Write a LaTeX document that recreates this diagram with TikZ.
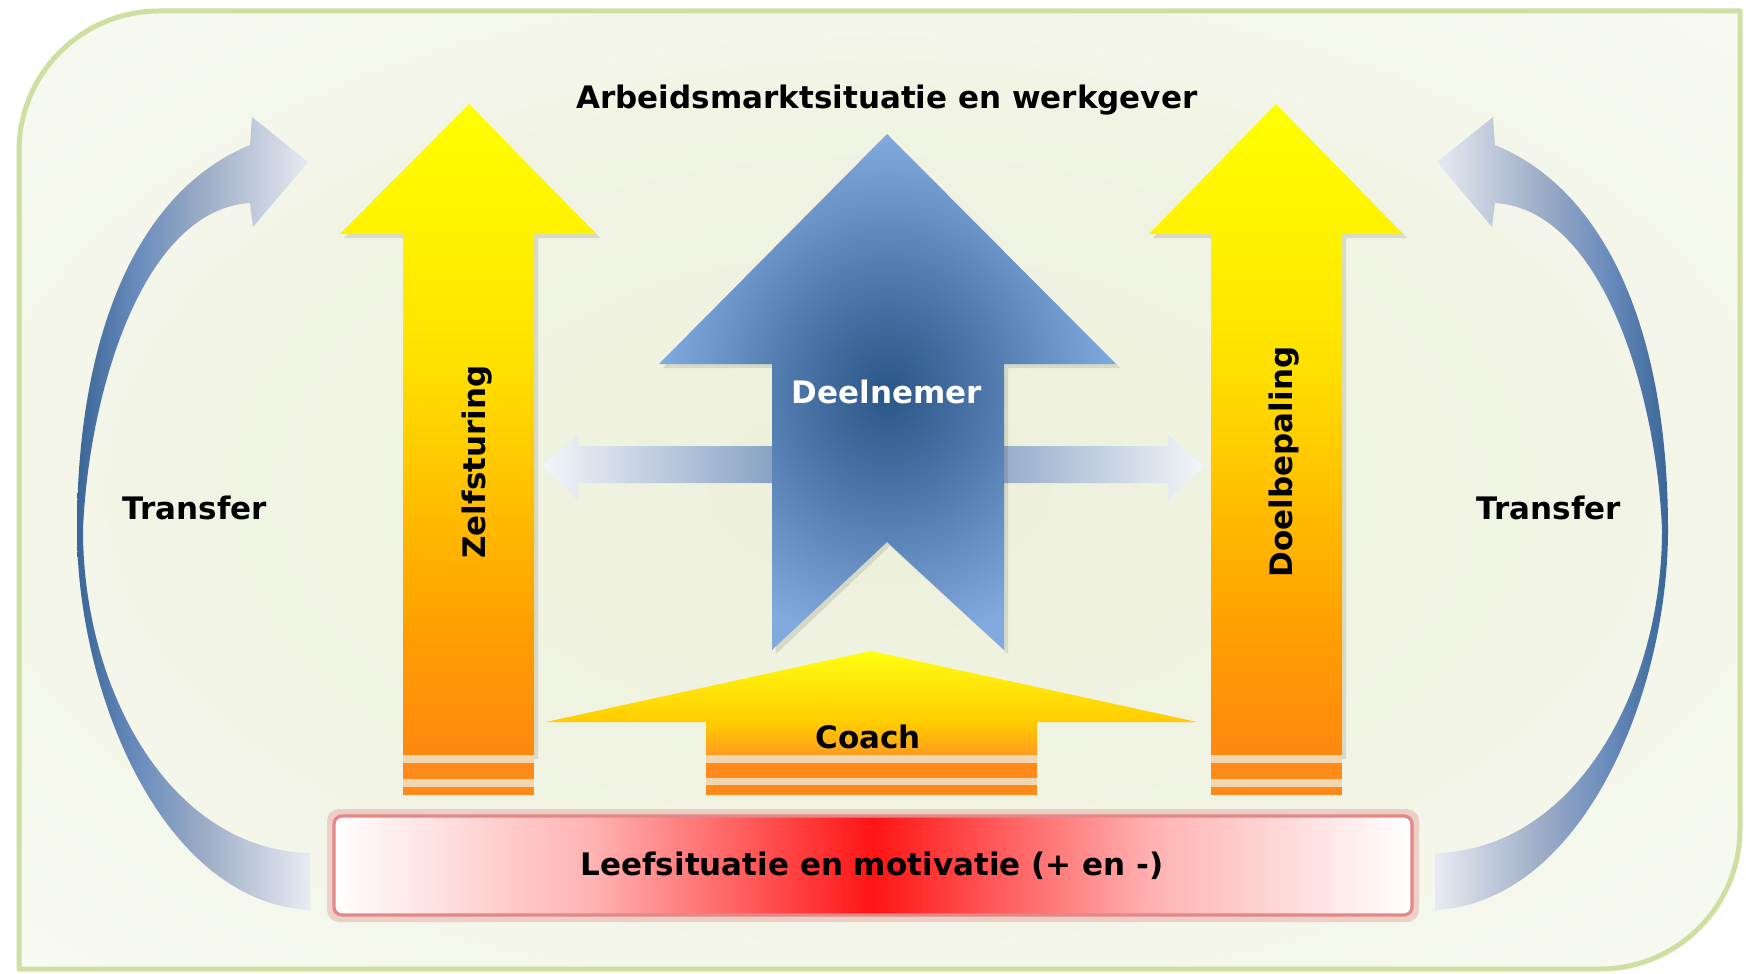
\documentclass[tikz,border=0pt]{standalone}
\usepackage{fontspec}
\setmainfont{DejaVu Sans}
\definecolor{bgin}{HTML}{ECF0DA}
\definecolor{bgout}{HTML}{F8FAF3}
\definecolor{framegreen}{HTML}{CFDFA2}
\definecolor{trdark}{HTML}{3A6698}
\definecolor{trmidA}{HTML}{6A8CBC}
\definecolor{trmidB}{HTML}{9CACC6}
\definecolor{trlight}{HTML}{E8EBF2}
\definecolor{dblmid}{HTML}{5B7EAC}
\definecolor{dblend}{HTML}{F4F6FA}
\definecolor{blueC}{HTML}{2A5686}
\definecolor{blueM}{HTML}{4F78AC}
\definecolor{blueE}{HTML}{82AADE}
\definecolor{colT}{HTML}{FFFF00}
\definecolor{colA}{HTML}{FFF200}
\definecolor{colB}{HTML}{FFE000}
\definecolor{colC}{HTML}{FFC000}
\definecolor{colD}{HTML}{FFA000}
\definecolor{colE}{HTML}{FF8810}
\definecolor{barorange}{HTML}{FF8A1A}
\definecolor{barlight}{HTML}{F2D6B2}
\definecolor{coT}{HTML}{FFFF10}
\definecolor{coM}{HTML}{FFCC00}
\definecolor{coB}{HTML}{FF9C20}
\definecolor{leefred}{HTML}{FF1414}
\definecolor{leefpink}{HTML}{FFB2B2}
\definecolor{leefborder}{HTML}{E28888}
\pgfdeclareverticalshading{colshade}{100bp}{color(0bp)=(colE); color(25bp)=(colE); color(35bp)=(colD); color(45bp)=(colC); color(55bp)=(colB); color(65bp)=(colA); color(75bp)=(colT); color(100bp)=(colT)}
\pgfdeclareverticalshading{coachshade}{100bp}{color(0bp)=(coB); color(25bp)=(coB); color(41bp)=(coM); color(75bp)=(coT); color(100bp)=(coT)}
\pgfdeclareradialshading{deelshade}{\pgfpoint{0bp}{0bp}}{color(0bp)=(blueC); color(11bp)=(blueM); color(25bp)=(blueE); color(50bp)=(blueE)}
\pgfdeclarehorizontalshading{leefshade}{100bp}{color(0bp)=(white); color(25bp)=(white); color(37bp)=(leefpink); color(50bp)=(leefred); color(63bp)=(leefpink); color(75bp)=(white); color(100bp)=(white)}
\pgfdeclarehorizontalshading{trLshade}{100bp}{color(0bp)=(trdark); color(25bp)=(trdark); color(38bp)=(trmidA); color(52bp)=(trmidB); color(75bp)=(trlight); color(100bp)=(trlight)}
\pgfdeclarehorizontalshading{trRshade}{100bp}{color(0bp)=(trlight); color(25bp)=(trlight); color(48bp)=(trmidB); color(62bp)=(trmidA); color(75bp)=(trdark); color(100bp)=(trdark)}
\pgfdeclareradialshading{bgshade}{\pgfpoint{0bp}{0bp}}{color(0bp)=(bgin); color(20bp)=(bgin!60!bgout); color(35bp)=(bgout); color(50bp)=(bgout)}
\tikzset{
  lbl/.style={font=\fontsize{15.5}{18}\selectfont\bfseries, text=black, inner sep=0pt},
  column/.style={shading=colshade},
  barlt/.style={fill=barlight},
  baror/.style={fill=barorange},
  shadowy/.style={fill=black, opacity=0.10}
}
\def\framepath{(159,11) -- (1740,11) -- (1740,829) arc[start angle=0,end angle=90,radius=140] -- (19,969) -- (19,151) arc[start angle=180,end angle=270,radius=140] -- cycle}
\def\transferpath{(308,910) .. controls (160,900) and (77,690) .. (77,530) .. controls (77,330) and (140,190) .. (250,145) -- (252,117) -- (308,162) -- (253,227) -- (250,203) .. controls (140,210) and (88,400) .. (83,530) .. controls (83,690) and (170,850) .. (310,853) -- (310,910) -- cycle}
\begin{document}
\begin{tikzpicture}[x=0.5pt,y=-0.5pt]
\useasboundingbox (0,0) rectangle (1746,974);
\fill[white] (0,0) rectangle (1746,974);
% background frame
\shade[shading=bgshade] \framepath;
\draw[framegreen, line width=2.5pt, line join=round] \framepath;
% transfer arrows
\shade[shading=trLshade] \transferpath;
\begin{scope}[shift={(1745,0)}, xscale=-1]
\shade[shading=trRshade] \transferpath;
\end{scope}
% double arrow behind Deelnemer
\shade[left color=dblend, right color=dblend, middle color=dblmid]
  (542,466) -- (578,435) -- (578,446) -- (1168,446) -- (1168,435) -- (1204,466)
  -- (1168,500) -- (1168,483) -- (578,483) -- (578,500) -- cycle;
% Deelnemer arrow
\fill[shadowy] (890,138) -- (1120,368) -- (1008,368) -- (1008,654) -- (890,546) -- (776,654) -- (776,368) -- (663,368) -- cycle;
\shade[shading=deelshade] (887,134) -- (1116,364) -- (1004,364) -- (1004,650) -- (887,542) -- (772,650) -- (772,364) -- (659,364) -- cycle;
% Zelfsturing column
\fill[shadowy] (472,108) -- (600,238) -- (538,238) -- (538,759) -- (407,759) -- (407,238) -- (344,238) -- cycle;
\shade[column] (469,104) -- (596,234) -- (534,234) -- (534,755) -- (403,755) -- (403,234) -- (340,234) -- cycle;
\fill[barlt] (403,755) rectangle (534,795);
\fill[baror] (403,763) rectangle (534,779);
\fill[baror] (403,787) rectangle (534,795);
% Doelbepaling column
\fill[shadowy] (1279,108) -- (1407,238) -- (1346,238) -- (1346,759) -- (1215,759) -- (1215,238) -- (1153,238) -- cycle;
\shade[column] (1276,104) -- (1403,234) -- (1342,234) -- (1342,755) -- (1211,755) -- (1211,234) -- (1149,234) -- cycle;
\fill[barlt] (1211,755) rectangle (1342,795);
\fill[baror] (1211,763) rectangle (1342,779);
\fill[baror] (1211,787) rectangle (1342,795);
% Coach arrow
\shade[shading=coachshade] (871,651) -- (1197,722) -- (1037,722) -- (1037,755) -- (706,755) -- (706,722) -- (546,722) -- cycle;
\fill[barlt] (706,755) rectangle (1037,795);
\fill[baror] (706,763) rectangle (1037,778);
\fill[baror] (706,785) rectangle (1037,795);
% Leefsituatie bar
\fill[leefborder, opacity=0.35, rounded corners=6pt] (327,809) rectangle (1419,922);
\shadedraw[shading=leefshade, draw=leefborder, line width=1.6pt, rounded corners=4pt] (334,816) rectangle (1412,915);
% texts
\node[lbl] (title) at (887,100) {Arbeidsmarktsituatie en werkgever};
\node[lbl, text=white] (deel) at (887,392) {Deelnemer};
\node[lbl, rotate=90] (zelf) at (477,462) {Zelfsturing};
\node[lbl, rotate=90] (doel) at (1284,462) {Doelbepaling};
\node[lbl] (coach) at (868,737) {Coach};
\node[lbl] (leef) at (872,866) {Leefsituatie en motivatie (+ en -)};
\node[lbl] (trL) at (195,508) {Transfer};
\node[lbl] (trR) at (1549,508) {Transfer};
\end{tikzpicture}
\end{document}
